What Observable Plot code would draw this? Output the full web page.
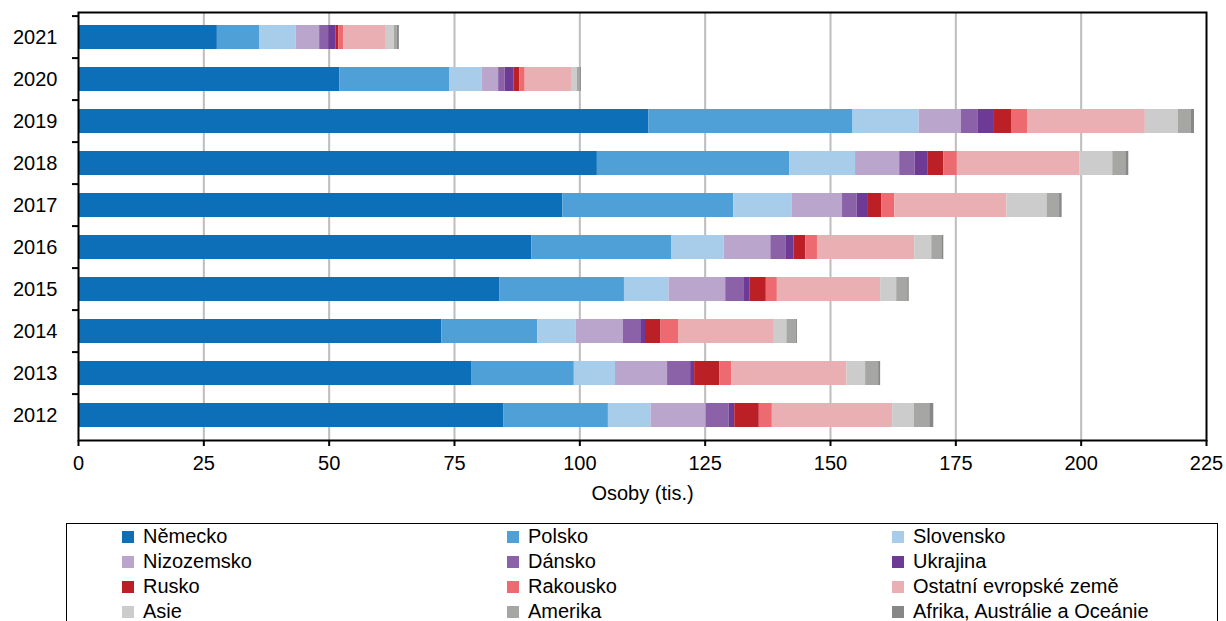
<!DOCTYPE html>
<html>
<head>
<meta charset="utf-8">
<script src="https://cdn.jsdelivr.net/npm/d3@7"></script>
<script src="https://cdn.jsdelivr.net/npm/@observablehq/plot@0.6"></script>
<style>
  html, body { margin: 0; padding: 0; background: #fff; }
  body { font-family: "Liberation Sans", Arial, sans-serif; width: 1226px; overflow: hidden; }
  #legend {
    position: relative; margin-left: 66px; width: 1152px; margin-top: 8px;
    border: 1px solid #000; height: 140px; box-sizing: border-box;
    padding: 0 0 0 55px; display: grid; grid-template-columns: 385px 385px 330px;
    grid-auto-rows: 25px; font-size: 20px; color: #000;
  }
  .item { display: flex; align-items: center; white-space: nowrap; }
  .sw { width: 12px; height: 12px; margin-right: 9px; flex: none; }
</style>
</head>
<body>
<div id="chart"></div>
<div id="legend"></div>
<script>
const years = ["2021","2020","2019","2018","2017","2016","2015","2014","2013","2012"];
const seriesNames = ["Německo","Polsko","Slovensko","Nizozemsko","Dánsko","Ukrajina","Rusko","Rakousko","Ostatní evropské země","Asie","Amerika","Afrika, Austrálie a Oceánie"];
const seriesColors = ["#0d6fb8","#4ea0d7","#a7cdea","#baa5cd","#8b62a8","#6d3a96","#ba2025","#ed6b70","#e9afb2","#cccccc","#a6a6a5","#878787"];
const xTicks = [0,25,50,75,100,125,150,175,200,225];

const nemecko    = [27.7, 52.1, 113.8, 103.5, 96.6, 90.4, 84.0, 72.5, 78.4, 84.8];
const polsko     = [8.5, 21.9, 40.7, 38.4, 34.1, 27.9, 24.9, 19.1, 20.5, 20.9];
const slovensko  = [7.2, 6.5, 13.2, 13.1, 11.7, 10.5, 8.9, 7.7, 8.2, 8.5];
const nizozemsko = [4.7, 3.3, 8.4, 8.8, 10.0, 9.3, 11.3, 9.4, 10.4, 11.0];
const dansko     = [1.8, 1.3, 3.4, 3.1, 2.9, 3.1, 3.6, 3.6, 4.6, 4.6];
const ukrajina   = [1.5, 1.8, 3.2, 2.6, 2.1, 1.5, 1.2, 0.8, 0.8, 1.1];
const rusko      = [0.5, 1.1, 3.4, 3.1, 2.8, 2.4, 3.3, 3.1, 5.0, 4.9];
const rakousko   = [1.0, 1.1, 3.2, 2.7, 2.6, 2.3, 2.2, 3.6, 2.4, 2.6];
const ostatni    = [8.5, 9.4, 23.5, 24.4, 22.4, 19.4, 20.6, 19.0, 23.0, 24.0];
const asie       = [1.6, 1.0, 6.6, 6.6, 8.0, 3.4, 3.2, 2.5, 3.7, 4.3];
const amerika    = [0.6, 0.6, 2.6, 2.6, 2.5, 2.0, 2.2, 1.9, 2.6, 3.1];
const afrika     = [0.4, 0.2, 0.6, 0.6, 0.5, 0.4, 0.3, 0.2, 0.4, 0.8];

const seriesValues = [nemecko, polsko, slovensko, nizozemsko, dansko, ukrajina, rusko, rakousko, ostatni, asie, amerika, afrika];

const table = [];
years.forEach((yr, i) => {
  seriesNames.forEach((name, s) => {
    table.push({year: yr, series: name, value: seriesValues[s][i]});
  });
});

const H = 515, mTop = 12, mBottom = 75;
const step = (H - mTop - mBottom) / years.length;

const chart = Plot.plot({
  width: 1226,
  height: H,
  marginLeft: 78,
  marginRight: 20,
  marginTop: mTop,
  marginBottom: mBottom,
  style: {fontFamily: "'Liberation Sans', Arial, sans-serif", fontSize: "20px", color: "#000", background: "#fff"},
  x: {domain: [0, 225]},
  y: {domain: years, paddingInner: 0.44, paddingOuter: 0.22},
  color: {domain: seriesNames, range: seriesColors},
  marks: [
    Plot.gridX(xTicks.slice(1, -1), {stroke: "#bdbdbd", strokeOpacity: 1, strokeWidth: 2}),
    Plot.barX(table, Plot.stackX({y: "year", x: "value", fill: "series", order: null})),
    Plot.frame({stroke: "#000", strokeWidth: 2}),
    Plot.axisY({tickSize: 0, tickPadding: 21, label: null, fontSize: 20}),
    Plot.ruleY(years, {y: d => d, x1: -1.2, x2: 0, dy: -step / 2, stroke: "#000", strokeWidth: 2}),
    Plot.axisX({ticks: xTicks, tickSize: 6, tickPadding: 9, strokeWidth: 2, fontSize: 20,
      label: "Osoby (tis.)", labelAnchor: "center", labelArrow: "none", labelOffset: 59}),
    Plot.ruleY([0], {frameAnchor: "bottom", stroke: "#000", strokeWidth: 2})
  ]
});
document.getElementById("chart").appendChild(chart);

const legend = document.getElementById("legend");
seriesNames.forEach((name, i) => {
  const it = document.createElement("div");
  it.className = "item";
  const sw = document.createElement("span");
  sw.className = "sw";
  sw.style.background = seriesColors[i];
  const tx = document.createElement("span");
  tx.textContent = name;
  it.appendChild(sw); it.appendChild(tx);
  legend.appendChild(it);
});
</script>
</body>
</html>
